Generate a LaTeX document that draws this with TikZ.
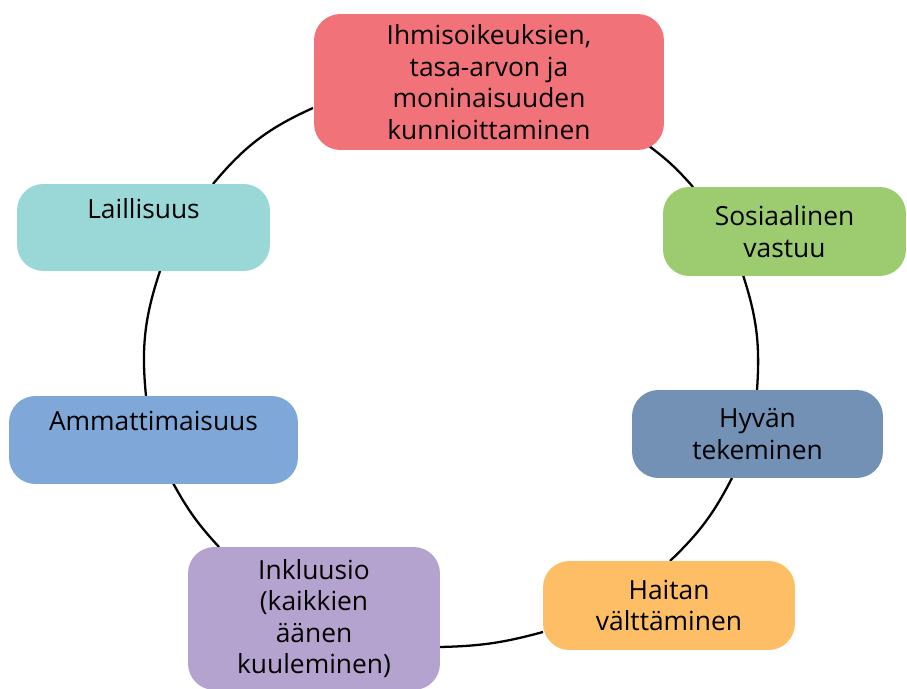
\documentclass[tikz,border=0pt]{standalone}
\usepackage{fontspec}
\setmainfont{Open Sans}
\usetikzlibrary{backgrounds}
\definecolor{cred}{HTML}{F17379}
\definecolor{cgreen}{HTML}{9CCC6F}
\definecolor{cslate}{HTML}{7390B5}
\definecolor{corange}{HTML}{FDBE65}
\definecolor{cpurple}{HTML}{B4A3CF}
\definecolor{cblue}{HTML}{7FA8D8}
\definecolor{cteal}{HTML}{99D8D7}
\begin{document}
\begin{tikzpicture}[x=0.02cm,y=-0.02cm,
  box/.style={rounded corners=15pt, inner sep=0pt, align=center,
    font=\fontsize{15}{17.9}\selectfont, text=black},
  ring/.style={line width=1.3pt, black}]
\useasboundingbox (0,0) rectangle (907,689);
\node[box, fill=cred, minimum width=7cm, minimum height=2.72cm] (red) at (489,82)
  {Ihmisoikeuksien,\\tasa-arvon ja\\moninaisuuden\\kunnioittaminen};
\node[box, fill=cgreen, minimum width=4.86cm, minimum height=1.78cm] (grn) at (784.5,231.5)
  {Sosiaalinen\\vastuu};
\node[box, fill=cslate, minimum width=5.02cm, minimum height=1.76cm] (hyv) at (757.5,434)
  {Hyvän\\tekeminen};
\node[box, fill=corange, minimum width=5.04cm, minimum height=1.78cm] (hai) at (669,605.5)
  {Haitan\\välttäminen};
\node[box, fill=cpurple, minimum width=5.04cm, minimum height=2.86cm] (ink) at (314,618.5)
  {Inkluusio\\(kaikkien\\äänen\\kuuleminen)};
\node[box, fill=cblue, minimum width=5.78cm, minimum height=1.76cm] (amm) at (153.5,440)
  {Ammattimaisuus\\\phantom{Ag}};
\node[box, fill=cteal, minimum width=5.06cm, minimum height=1.74cm] (lai) at (143.5,227.5)
  {Laillisuus\\\phantom{Ag}};
\begin{scope}[on background layer]
\draw[ring] ([shift={(160,64)}]red.center) to[bend left=6] ([shift={(-91.5,-44.5)}]grn.center);
\draw[ring] ([shift={(-41.5,43.5)}]grn.center) to[bend left=11] ([shift={(-0.5,-44)}]hyv.center);
\draw[ring] ([shift={(-25.5,44)}]hyv.center) to[bend left=9.5] ([shift={(1,-44.5)}]hai.center);
\draw[ring] ([shift={(-126,26.5)}]hai.center) to[bend left=7] ([shift={(126,28.5)}]ink.center);
\draw[ring] ([shift={(-95,-71.5)}]ink.center) to[bend left=7] ([shift={(19.5,43)}]amm.center);
\draw[ring] ([shift={(-7.5,-44)}]amm.center) to[bend left=12] ([shift={(16.5,43.5)}]lai.center);
\draw[ring] ([shift={(69.5,-43.5)}]lai.center) to[bend left=13] ([shift={(-176,26)}]red.center);
\end{scope}
\end{tikzpicture}
\end{document}
